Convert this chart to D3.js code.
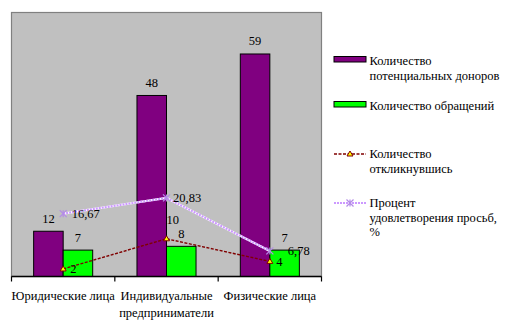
<!DOCTYPE html>
<html>
<head>
<meta charset="utf-8">
<script src="https://cdn.jsdelivr.net/npm/d3@7"></script>
<style>
  html, body { margin: 0; padding: 0; background: #ffffff; }
  svg { display: block; }
</style>
</head>
<body>
<svg id="chart" width="507" height="334"></svg>
<script>
// Categories (each may wrap onto several lines)
const categories = ["Юридические лица", "Индивидуальные предприниматели", "Физические лица"];
const categoryLines = [["Юридические лица"], ["Индивидуальные", "предприниматели"], ["Физические лица"]];

// Series values
const potentialDonors = [12, 48, 59];
const requests = [7, 8, 7];
const responded = [2, 10, 4];
const satisfiedPercent = [16.67, 20.83, 6.78];
const percentLabels = ["16,67", "20,83", "6,78"];

const yDomain = [0, 70];

const seriesNames = [
  ["Количество", "потенциальных доноров"],
  ["Количество обращений"],
  ["Количество", "откликнувшись"],
  ["Процент", "удовлетворения просьб,", "%"]
];

const colors = {
  donors: "#800080",
  requests: "#00ff00",
  responded: "#800000",
  percent: "#cc99ff",
  plot: "#c0c0c0",
  plotBorder: "#808080"
};

const FONT = "'Liberation Serif', 'Times New Roman', serif";
const svg = d3.select("#chart");
const plot = { left: 11.5, right: 321.5, top: 12.5, bottom: 276.5 };
const fontSize = 12.5;

function label(sel) {
  return sel.attr("font-family", FONT).style("font-family", FONT).attr("font-size", fontSize).attr("fill", "#000");
}

const x = d3.scaleBand().domain(categories).range([plot.left, plot.right]).padding(0);
const inner = d3.scaleBand().domain(["donors", "requests"]).range([0, x.bandwidth()])
  .paddingInner(0).paddingOuter(0.75);
const y = d3.scaleLinear().domain(yDomain).range([plot.bottom, plot.top]);

// Plot area background
svg.append("rect")
  .attr("x", plot.left).attr("y", plot.top)
  .attr("width", plot.right - plot.left).attr("height", plot.bottom - plot.top)
  .attr("fill", colors.plot).attr("stroke", colors.plotBorder).attr("stroke-width", 1.2);

// Bars
const barSeries = [
  { key: "donors", values: potentialDonors, color: colors.donors },
  { key: "requests", values: requests, color: colors.requests }
];
barSeries.forEach(s => {
  const g = svg.append("g");
  g.selectAll("rect").data(s.values).join("rect")
    .attr("x", (d, i) => x(categories[i]) + inner(s.key))
    .attr("y", d => y(d))
    .attr("width", inner.bandwidth())
    .attr("height", d => y(0) - y(d))
    .attr("fill", s.color).attr("stroke", "#000").attr("stroke-width", 1);
  g.selectAll("text").data(s.values).join("text")
    .call(label)
    .attr("x", (d, i) => x(categories[i]) + inner(s.key) + inner.bandwidth() / 2)
    .attr("y", d => y(d) - 8.5)
    .attr("text-anchor", "middle")
    .text(d => d);
});

// Category axis: line along the bottom with ticks between categories
svg.append("line")
  .attr("x1", plot.left).attr("x2", plot.right)
  .attr("y1", plot.bottom).attr("y2", plot.bottom)
  .attr("stroke", "#000").attr("stroke-width", 1.3);
const tickPositions = categories.map(c => x(c)).concat([x(categories[categories.length - 1]) + x.bandwidth()]);
svg.append("g").selectAll("line").data(tickPositions).join("line")
  .attr("x1", d => d).attr("x2", d => d)
  .attr("y1", plot.bottom).attr("y2", plot.bottom + 5)
  .attr("stroke", "#000").attr("stroke-width", 1.2);

const catG = svg.append("g");
categoryLines.forEach((lines, i) => {
  const t = catG.append("text").call(label)
    .attr("x", x(categories[i]) + x.bandwidth() / 2)
    .attr("y", 300)
    .attr("text-anchor", "middle");
  lines.forEach((ln, j) => {
    t.append("tspan").attr("x", x(categories[i]) + x.bandwidth() / 2)
      .attr("dy", j === 0 ? 0 : 16.5).text(ln);
  });
});

const cx = i => x(categories[i]) + x.bandwidth() / 2;

// Percent series: light violet dotted line with star markers
const percentLine = d3.line().x((d, i) => cx(i)).y(d => y(d));
svg.append("path").datum(satisfiedPercent)
  .attr("d", percentLine).attr("fill", "none")
  .attr("stroke", "#ffffff").attr("stroke-width", 2.2);
svg.append("path").datum(satisfiedPercent)
  .attr("d", percentLine).attr("fill", "none")
  .attr("stroke", colors.percent).attr("stroke-width", 2.2)
  .attr("stroke-dasharray", "2,1");

function starMarker(g, px, py, r, color) {
  g.append("path")
    .attr("d", `M${px - r},${py - r}L${px + r},${py + r}M${px - r},${py + r}L${px + r},${py - r}M${px},${py - r}L${px},${py + r}`)
    .attr("stroke", color).attr("stroke-width", 1.2).attr("fill", "none");
}
const pm = svg.append("g");
satisfiedPercent.forEach((v, i) => starMarker(pm, cx(i), y(v), 3.5, "#b48ce6"));

// Responded series: dark red dashed line with yellow triangles
const respLine = d3.line().x((d, i) => cx(i)).y(d => y(d));
svg.append("path").datum(responded)
  .attr("d", respLine).attr("fill", "none")
  .attr("stroke", colors.responded).attr("stroke-width", 1.4)
  .attr("stroke-dasharray", "3,1.5");

function triangleMarker(g, px, py) {
  g.append("path")
    .attr("d", `M${px},${py - 3}L${px + 3},${py + 2}L${px - 3},${py + 2}Z`)
    .attr("fill", "#ffff00").attr("stroke", colors.responded).attr("stroke-width", 1);
}
const rm = svg.append("g");
responded.forEach((v, i) => triangleMarker(rm, cx(i), y(v)));

// Point labels of the line series
const respondedLabelOffsets = [[7, 4.5], [0, -15], [6.5, 4.5]];
responded.forEach((v, i) => {
  svg.append("text").call(label)
    .attr("x", cx(i) + respondedLabelOffsets[i][0])
    .attr("y", y(v) + respondedLabelOffsets[i][1])
    .text(v);
});
const percentLabelOffsets = [[8.5, 4.5], [6.5, 4.5], [18, 4.5]];
satisfiedPercent.forEach((v, i) => {
  svg.append("text").call(label)
    .attr("x", cx(i) + percentLabelOffsets[i][0])
    .attr("y", y(v) + percentLabelOffsets[i][1])
    .text(percentLabels[i]);
});

// Legend
const legend = svg.append("g");
const lgX = 334, lgW = 32, lgTextX = 369.5, lineH = 14.5;
const legendBaselines = [65, 110, 158, 207];

// bar swatches
[colors.donors, colors.requests].forEach((c, i) => {
  legend.append("rect")
    .attr("x", lgX).attr("y", legendBaselines[i] - 8.5)
    .attr("width", lgW).attr("height", 5.5)
    .attr("fill", c).attr("stroke", "#000").attr("stroke-width", 1);
});
// responded sample
const ry = legendBaselines[2] - 4;
legend.append("line").attr("x1", lgX).attr("x2", lgX + lgW).attr("y1", ry).attr("y2", ry)
  .attr("stroke", colors.responded).attr("stroke-width", 1.4).attr("stroke-dasharray", "3,1.5");
triangleMarker(legend, lgX + lgW / 2, ry);
// percent sample
const py = legendBaselines[3] - 4;
legend.append("line").attr("x1", lgX).attr("x2", lgX + lgW).attr("y1", py).attr("y2", py)
  .attr("stroke", "#ffffff").attr("stroke-width", 2.2);
legend.append("line").attr("x1", lgX).attr("x2", lgX + lgW).attr("y1", py).attr("y2", py)
  .attr("stroke", colors.percent).attr("stroke-width", 2.2).attr("stroke-dasharray", "2,1");
starMarker(legend, lgX + lgW / 2, py, 3.5, "#b48ce6");

seriesNames.forEach((lines, i) => {
  const t = legend.append("text").call(label).attr("x", lgTextX).attr("y", legendBaselines[i]);
  lines.forEach((ln, j) => {
    t.append("tspan").attr("x", lgTextX).attr("dy", j === 0 ? 0 : lineH).text(ln);
  });
});
</script>
</body>
</html>
